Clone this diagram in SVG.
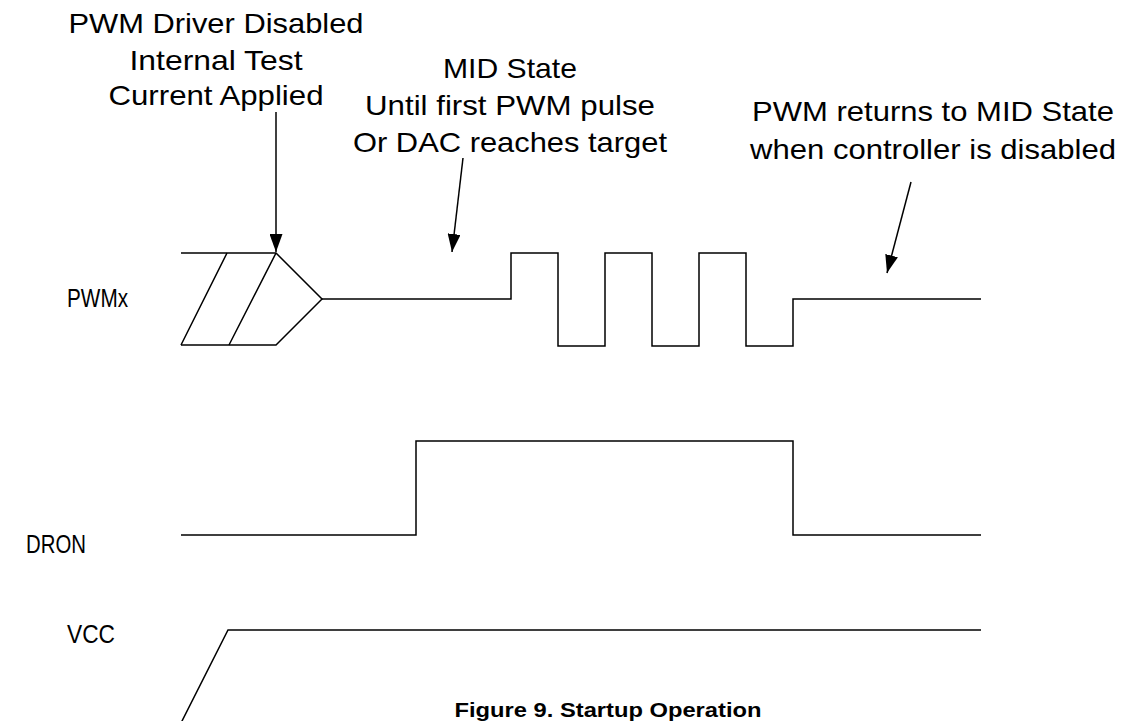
<svg xmlns="http://www.w3.org/2000/svg" width="1123" height="721" viewBox="0 0 1123 721">
<style>
.t{font-family:"Liberation Sans",Arial,sans-serif;font-size:28px;fill:#000;text-anchor:middle}
.l{font-family:"Liberation Sans",Arial,sans-serif;font-size:26px;fill:#000}
.c{font-family:"Liberation Sans",Arial,sans-serif;font-size:20px;font-weight:bold;fill:#000;text-anchor:middle}
.w{fill:none;stroke:#000;stroke-width:1.5;stroke-linejoin:miter}
.a{fill:none;stroke:#000;stroke-width:1.5}
</style>
<defs>
<marker id="ah" viewBox="0 0 18 13" refX="18" refY="6.5" markerWidth="18" markerHeight="13" markerUnits="userSpaceOnUse" orient="auto">
<path d="M0,0 L18,6.5 L0,13 Z" fill="#000"/>
</marker>
</defs>
<rect width="1123" height="721" fill="#fff"/>
<g id="labels">
<text class="t" x="216" y="33" textLength="295" lengthAdjust="spacingAndGlyphs">PWM Driver Disabled</text>
<text class="t" x="216" y="70" textLength="173" lengthAdjust="spacingAndGlyphs">Internal Test</text>
<text class="t" x="216" y="105" textLength="215" lengthAdjust="spacingAndGlyphs">Current Applied</text>
<text class="t" x="510" y="78" textLength="134" lengthAdjust="spacingAndGlyphs">MID State</text>
<text class="t" x="510" y="115" textLength="290" lengthAdjust="spacingAndGlyphs">Until first PWM pulse</text>
<text class="t" x="510" y="152" textLength="314" lengthAdjust="spacingAndGlyphs">Or DAC reaches target</text>
<text class="t" x="933" y="121" textLength="362" lengthAdjust="spacingAndGlyphs">PWM returns to MID State</text>
<text class="t" x="933" y="159" textLength="366" lengthAdjust="spacingAndGlyphs">when controller is disabled</text>
</g>
<g id="PWMx">
<text class="l" x="67" y="307" textLength="61" lengthAdjust="spacingAndGlyphs">PWMx</text>
<path class="w" d="M181,253 L276,253 L322,299 L276,345 L181,345"/>
<path class="w" d="M227,253 L181,345 M276,253 L229,345"/>
<path class="w" d="M322,299 L511,299 L511,253 L558,253 L558,346 L605,346 L605,253 L652,253 L652,346 L699,346 L699,253 L746,253 L746,346 L793,346 L793,299 L981,299"/>
</g>
<g id="DRON">
<text class="l" x="26" y="553" textLength="60" lengthAdjust="spacingAndGlyphs">DRON</text>
<path class="w" d="M181,535 L416,535 L416,441 L793,441 L793,535 L981,535"/>
</g>
<g id="VCC">
<text class="l" x="67" y="643" textLength="48" lengthAdjust="spacingAndGlyphs">VCC</text>
<path class="w" d="M181,723 L228,630 L981,630"/>
</g>
<g id="connectors">
<line class="a" x1="276" y1="112" x2="276" y2="252" marker-end="url(#ah)"/>
<line class="a" x1="463" y1="158" x2="452" y2="252" marker-end="url(#ah)"/>
<line class="a" x1="911" y1="182" x2="887" y2="273" marker-end="url(#ah)"/>
</g>
<g id="caption">
<text class="c" x="608" y="717" textLength="307" lengthAdjust="spacingAndGlyphs">Figure 9. Startup Operation</text>
</g>
</svg>
